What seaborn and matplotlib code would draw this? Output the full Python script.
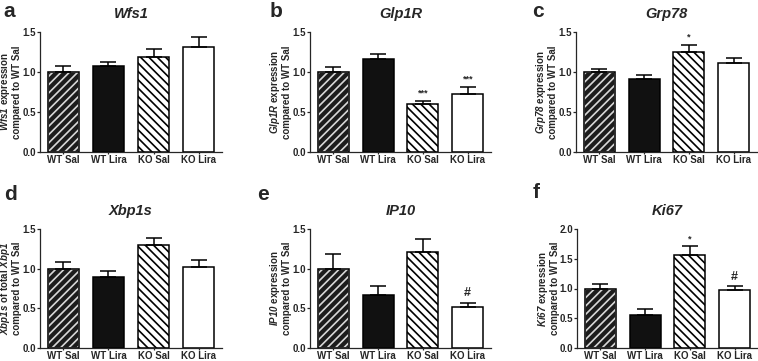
import matplotlib
matplotlib.use("Agg")
import matplotlib.pyplot as plt
from matplotlib.patches import Rectangle
import seaborn as sns
import numpy as np

# ---------------- data ----------------
groups = ["WT Sal", "WT Lira", "KO Sal", "KO Lira"]

wfs1_mean = [1.00, 1.07, 1.19, 1.31]
wfs1_sem = [0.07, 0.05, 0.10, 0.13]
wfs1_sig = ["", "", "", ""]

glp1r_mean = [1.00, 1.165, 0.60, 0.73]
glp1r_sem = [0.06, 0.06, 0.04, 0.085]
glp1r_sig = ["", "", "***", "***"]

grp78_mean = [1.00, 0.91, 1.25, 1.11]
grp78_sem = [0.04, 0.05, 0.09, 0.06]
grp78_sig = ["", "", "*", ""]

xbp1s_mean = [1.00, 0.89, 1.30, 1.02]
xbp1s_sem = [0.09, 0.075, 0.085, 0.09]
xbp1s_sig = ["", "", "", ""]

ip10_mean = [1.00, 0.67, 1.21, 0.52]
ip10_sem = [0.19, 0.11, 0.16, 0.05]
ip10_sig = ["", "", "", "#"]

ki67_mean = [1.00, 0.55, 1.57, 0.97]
ki67_sem = [0.08, 0.10, 0.14, 0.07]
ki67_sig = ["", "", "*", "#"]

yticks_15 = [0.0, 0.5, 1.0, 1.5]
yticks_20 = [0.0, 0.5, 1.0, 1.5, 2.0]

panels = [
    ("a", "Wfs1", r"$\mathbfit{Wfs1}$ expression" + "\ncompared to WT Sal", wfs1_mean, wfs1_sem, wfs1_sig, yticks_15),
    ("b", "Glp1R", r"$\mathbfit{Glp1R}$ expression" + "\ncompared to WT Sal", glp1r_mean, glp1r_sem, glp1r_sig, yticks_15),
    ("c", "Grp78", r"$\mathbfit{Grp78}$ expression" + "\ncompared to WT Sal", grp78_mean, grp78_sem, grp78_sig, yticks_15),
    ("d", "Xbp1s", r"$\mathbfit{Xbp1s}$ of total $\mathbfit{Xbp1}$" + "\ncompared to WT Sal", xbp1s_mean, xbp1s_sem, xbp1s_sig, yticks_15),
    ("e", "IP10", r"$\mathbfit{IP10}$ expression" + "\ncompared to WT Sal", ip10_mean, ip10_sem, ip10_sig, yticks_15),
    ("f", "Ki67", r"$\mathbfit{Ki67}$ expression" + "\ncompared to WT Sal", ki67_mean, ki67_sem, ki67_sig, yticks_20),
]

# ---------------- style ----------------
sns.set_style("ticks")
plt.rcParams["font.family"] = ["Liberation Sans", "DejaVu Sans"]
plt.rcParams["font.weight"] = "bold"
plt.rcParams["mathtext.fontset"] = "custom"
plt.rcParams["mathtext.rm"] = "Liberation Sans:bold"
plt.rcParams["mathtext.it"] = "Liberation Sans:bold:italic"
plt.rcParams["mathtext.bf"] = "Liberation Sans:bold"
plt.rcParams["mathtext.bfit"] = "Liberation Sans:bold:italic"
plt.rcParams["hatch.linewidth"] = 1.2

fig = plt.figure(figsize=(7.58, 3.61), dpi=100)
W, H = 758.0, 361.0

# axes boxes in pixels: (left, top, right, bottom)
boxes = [
    (40, 32, 222, 152),
    (310, 32, 491, 152),
    (576, 32, 757, 152),
    (40, 229, 222, 348),
    (310, 229, 491, 348),
    (577, 229, 758, 348),
]
letter_pos = [(3, 17), (270, 17), (532, 17), (4, 200), (257, 200), (533, 198)]

for (letter, title, ylabel, mean, sem, sig, yt), box, lp in zip(panels, boxes, letter_pos):
    l, t, r, b = box
    ax = fig.add_axes([l / W, 1 - b / H, (r - l) / W, (b - t) / H])
    sns.barplot(x=groups, y=mean, order=groups, ax=ax, errorbar=None,
                width=0.69, color="white", saturation=1)
    pats = ax.patches[:4]
    for i, p in enumerate(pats):
        p.set_linewidth(1.1)
        if i == 0:
            p.set_facecolor("#1c1c1c")
            p.set_edgecolor("#d8d8d8")
            p.set_hatch("////")
            ax.add_patch(Rectangle(p.get_xy(), p.get_width(), p.get_height(),
                                   fill=False, ec="black", lw=1.1, zorder=p.get_zorder() + 0.1))
        elif i == 1:
            p.set_facecolor("#111111")
            p.set_edgecolor("black")
        elif i == 2:
            p.set_facecolor("white")
            p.set_edgecolor("black")
            p.set_hatch("\\\\\\\\")
        else:
            p.set_facecolor("white")
            p.set_edgecolor("black")
    xs = np.arange(len(groups))
    ax.errorbar(xs, mean, yerr=[np.zeros(len(sem)), sem], fmt="none",
                ecolor="black", elinewidth=1.1, capsize=5.5, capthick=1.1, zorder=1)
    for x, m, s, lab in zip(xs, mean, sem, sig):
        if lab:
            fs = 6.5 if lab.startswith("*") else 9
            off = 2 if lab.startswith("*") else 2.5
            ax.annotate(lab, (x, m + s), xytext=(0, off), textcoords="offset points",
                        ha="center", va="bottom", fontsize=fs, fontweight="bold")
    ax.set_xlim(-0.52, 3.52)
    ax.set_ylim(yt[0], yt[-1])
    ax.set_yticks(yt)
    ax.set_yticklabels([f"{v:.1f}" for v in yt])
    ax.set_xticks(xs)
    ax.set_xticklabels(groups)
    ax.tick_params(axis="both", labelsize=7, width=0.9, direction="out")
    ax.tick_params(axis="x", length=1.5, pad=0.5)
    ax.tick_params(axis="y", length=2.0, pad=1.0)
    for lab in ax.get_xticklabels() + ax.get_yticklabels():
        lab.set_fontweight("bold")
    for sp in ["top", "right"]:
        ax.spines[sp].set_visible(False)
    for sp in ["left", "bottom"]:
        ax.spines[sp].set_linewidth(0.9)
    ax.set_xlabel("")
    ax.set_ylabel(ylabel, fontsize=7, fontweight="bold", linespacing=1.0)
    ax.yaxis.set_label_coords(-17.5 / (r - l), 0.5)
    ax.set_title(title, fontsize=10.5, fontweight="bold", style="italic", pad=10)
    fig.text(lp[0] / W, 1 - lp[1] / H, letter, fontsize=15, fontweight="bold",
             ha="left", va="baseline")

fig.savefig("out.png", dpi=100)
